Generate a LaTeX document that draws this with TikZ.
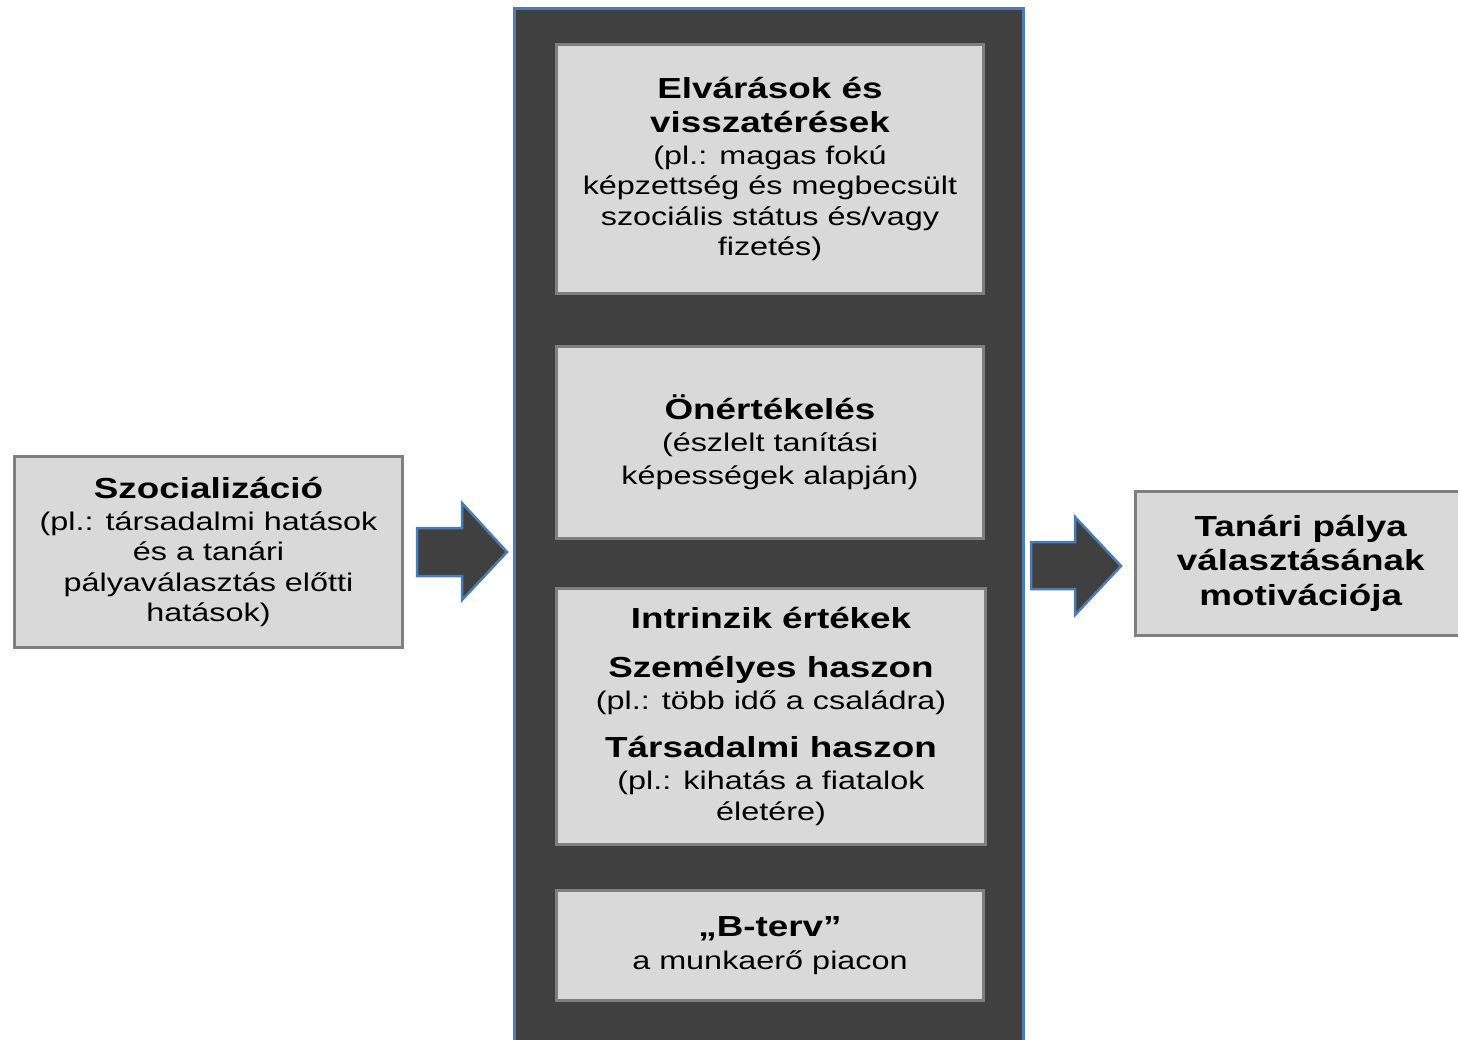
\documentclass[tikz,border=0pt]{standalone}
\usepackage{fontspec}
\setmainfont{Liberation Sans}[FakeStretch=1.27]
\definecolor{boxgray}{HTML}{D9D9D9}
\definecolor{linegray}{HTML}{7F7F7F}
\definecolor{coldark}{HTML}{404040}
\definecolor{colblue}{HTML}{4A7DB5}
% headings in the boxes
\newcommand{\hd}[1]{{\fontsize{29}{34}\selectfont\bfseries #1}}
\tikzset{
  factor/.style={draw=linegray, line width=3pt, fill=boxgray, align=center,
    inner sep=0pt, font=\fontsize{25.5}{30.5}\selectfont},
  bigarrow/.style={draw=colblue, line width=2.5pt, fill=coldark, line join=miter}
}
\begin{document}
\begin{tikzpicture}[x=1pt,y=-1pt]
\useasboundingbox (0,0) rectangle (1458,1039);
% middle column
\draw[draw=colblue, line width=3pt, fill=coldark] (514.5,8.5) rectangle (1023.5,1050);
% boxes
\node[factor, minimum width=388pt, minimum height=191pt] (szoc) at (208.5,552)
  {\hd{Szocializáció}\\[1pt] (pl.: társadalmi hatások\\ és a tanári\\ pályaválasztás előtti\\ hatások)};
\node[factor, minimum width=427pt, minimum height=249pt] (elvar) at (770,169)
  {\hd{Elvárások és}\\[4pt] \hd{visszatérések}\\[1pt] (pl.: magas fokú\\ képzettség és megbecsült\\ szociális státus és/vagy\\ fizetés)};
\node[factor, minimum width=427pt, minimum height=192pt] (oner) at (770,442.5)
  {\hd{Önértékelés}\\[1pt] (észlelt tanítási\\[3pt] képességek alapján)};
\node[factor, minimum width=429pt, minimum height=256pt] (intr) at (771,716.5)
  {\hd{Intrinzik értékek}\\[18pt] \hd{Személyes haszon}\\[2pt] (pl.: több idő a családra)\\[17pt] \hd{Társadalmi haszon}\\[2pt] (pl.: kihatás a fiatalok\\ életére)};
\node[factor, minimum width=427pt, minimum height=110pt] (bterv) at (770,945.5)
  {\hd{„B-terv”}\\[3pt] a munkaerő piacon};
\node[factor, minimum width=331pt, minimum height=144pt] (motiv) at (1300.75,563.5)
  {\hd{Tanári pálya}\\[3pt] \hd{választásának}\\[5pt] \hd{motivációja}};
% block arrows
\coordinate (tipL) at (507,552);
\coordinate (tipR) at (1121,566);
\draw[bigarrow] (tipL) -- ++(-45,-49) -- ++(0,25) -- ++(-45,0) -- ++(0,48)
  -- ++(45,0) -- ++(0,24) -- cycle;
\draw[bigarrow] (tipR) -- ++(-46,-49) -- ++(0,25) -- ++(-44,0) -- ++(0,47)
  -- ++(44,0) -- ++(0,26) -- cycle;
\end{tikzpicture}
\end{document}
